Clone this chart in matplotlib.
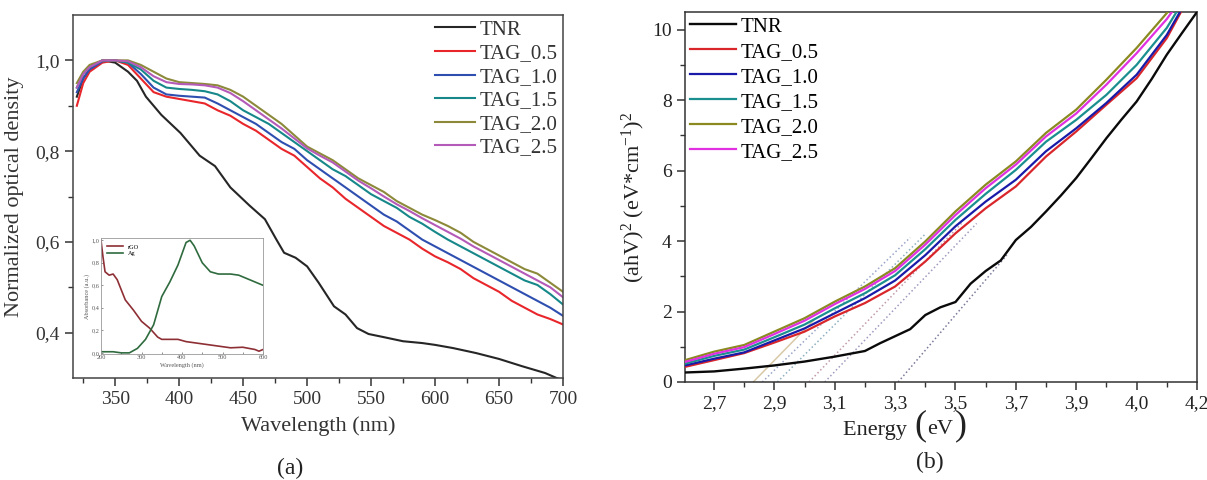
import matplotlib
matplotlib.use("Agg")
import matplotlib.pyplot as plt
from matplotlib.ticker import MultipleLocator, FixedLocator
from matplotlib.offsetbox import TextArea, HPacker, AnnotationBbox

plt.rcParams['font.family'] = ['Liberation Serif', 'DejaVu Serif']
plt.rcParams['mathtext.fontset'] = 'custom'
plt.rcParams['mathtext.rm'] = 'Liberation Serif'
plt.rcParams['mathtext.it'] = 'Liberation Serif:italic'

# ---------------- Panel (a): normalized optical density ----------------
series_names = ["TNR", "TAG_0.5", "TAG_1.0", "TAG_1.5", "TAG_2.0", "TAG_2.5"]
colors_a = ["#262626", "#e8262b", "#2f4fb0", "#17888a", "#8c8a3a", "#b45ab8"]
colors_b = ["#0a0a0a", "#d9262b", "#1a1aa8", "#1b8f8f", "#8a8a20", "#e030e0"]

wl_tnr = [320, 325, 330, 340, 350, 360, 367, 374, 386, 401, 416, 428, 440, 455, 467,
          476, 482, 491, 500, 509, 521, 530, 539, 548, 560, 575, 590, 600, 614, 632,
          650, 668, 686, 695, 700]
od_tnr = [0.92, 0.96, 0.98, 1.0, 0.995, 0.975, 0.955, 0.92, 0.88, 0.84, 0.79, 0.767,
          0.72, 0.68, 0.65, 0.605, 0.576, 0.565, 0.546, 0.51, 0.458, 0.44, 0.41, 0.397,
          0.39, 0.381, 0.377, 0.373, 0.366, 0.355, 0.342, 0.326, 0.311, 0.30, 0.295]

wl_tag = [320, 325, 330, 340, 350, 360, 370, 380, 390, 400, 410, 420, 430, 440, 450,
          460, 470, 480, 490, 500, 510, 520, 530, 540, 550, 560, 570, 580, 590, 600,
          610, 620, 630, 640, 650, 660, 670, 680, 690, 700]
od_tag05 = [0.90, 0.95, 0.975, 0.995, 1.0, 0.99, 0.96, 0.93, 0.92, 0.915, 0.91, 0.905,
            0.89, 0.878, 0.86, 0.845, 0.825, 0.805, 0.79, 0.765, 0.74, 0.72, 0.695,
            0.675, 0.655, 0.635, 0.62, 0.605, 0.585, 0.568, 0.555, 0.54, 0.52, 0.505,
            0.49, 0.47, 0.455, 0.44, 0.43, 0.418]
od_tag10 = [0.93, 0.96, 0.98, 0.998, 1.0, 0.995, 0.97, 0.94, 0.925, 0.922, 0.92, 0.918,
            0.905, 0.89, 0.875, 0.86, 0.84, 0.82, 0.805, 0.78, 0.76, 0.74, 0.72, 0.70,
            0.68, 0.66, 0.645, 0.625, 0.605, 0.59, 0.575, 0.56, 0.545, 0.53, 0.515,
            0.50, 0.485, 0.47, 0.455, 0.437]
od_tag15 = [0.94, 0.97, 0.985, 1.0, 1.0, 0.995, 0.98, 0.955, 0.94, 0.937, 0.935, 0.932,
            0.925, 0.91, 0.89, 0.875, 0.86, 0.84, 0.82, 0.80, 0.78, 0.76, 0.745, 0.725,
            0.705, 0.69, 0.675, 0.655, 0.64, 0.622, 0.605, 0.59, 0.575, 0.56, 0.545,
            0.53, 0.515, 0.505, 0.485, 0.462]
od_tag20 = [0.95, 0.975, 0.99, 1.0, 1.0, 1.0, 0.99, 0.975, 0.96, 0.952, 0.95, 0.948,
            0.945, 0.935, 0.92, 0.90, 0.88, 0.86, 0.835, 0.81, 0.795, 0.78, 0.76, 0.74,
            0.725, 0.71, 0.69, 0.675, 0.66, 0.648, 0.635, 0.62, 0.60, 0.585, 0.57,
            0.555, 0.54, 0.53, 0.51, 0.49]
od_tag25 = [0.94, 0.97, 0.985, 1.0, 1.0, 0.998, 0.985, 0.965, 0.952, 0.948, 0.947, 0.945,
            0.94, 0.928, 0.91, 0.89, 0.87, 0.85, 0.828, 0.806, 0.79, 0.775, 0.755,
            0.735, 0.718, 0.70, 0.683, 0.668, 0.652, 0.637, 0.622, 0.607, 0.59, 0.575,
            0.56, 0.545, 0.53, 0.515, 0.50, 0.478]
od_tags = [od_tag05, od_tag10, od_tag15, od_tag20, od_tag25]

# inset
inset_wl_rgo = [200, 205, 210, 220, 230, 240, 250, 260, 280, 300, 320, 340, 350, 370,
                390, 410, 450, 500, 520, 550, 580, 590, 600]
inset_rgo = [1.0, 0.85, 0.72, 0.69, 0.70, 0.65, 0.56, 0.47, 0.38, 0.28, 0.22, 0.14,
             0.12, 0.12, 0.12, 0.10, 0.08, 0.055, 0.045, 0.05, 0.03, 0.015, 0.03]
inset_wl_ag = [200, 230, 250, 270, 290, 310, 330, 350, 370, 390, 410, 420, 430, 450,
               470, 490, 520, 540, 560, 580, 600]
inset_ag = [0.01, 0.01, 0.0, 0.0, 0.04, 0.12, 0.25, 0.50, 0.63, 0.78, 0.98, 1.0, 0.95,
            0.80, 0.72, 0.70, 0.70, 0.69, 0.66, 0.63, 0.60]

# ---------------- Panel (b): Tauc plot ----------------
e_tnr = [2.604, 2.7, 2.8, 2.9, 3.0, 3.1, 3.2, 3.25, 3.3, 3.35, 3.4, 3.45, 3.5, 3.55,
         3.6, 3.65, 3.7, 3.75, 3.8, 3.85, 3.9, 3.95, 4.0, 4.05, 4.1, 4.15, 4.2, 4.25, 4.3]
t_tnr = [0.27, 0.30, 0.38, 0.47, 0.58, 0.72, 0.88, 1.1, 1.3, 1.5, 1.9, 2.12, 2.27,
         2.79, 3.15, 3.45, 4.03, 4.4, 4.84, 5.3, 5.79, 6.35, 6.92, 7.45, 7.96, 8.6,
         9.29, 9.9, 10.5]
e_tag = [2.604, 2.7, 2.8, 2.9, 3.0, 3.1, 3.2, 3.3, 3.4, 3.5, 3.6, 3.7, 3.8, 3.9, 4.0,
         4.1, 4.2, 4.25]
t_tag05 = [0.43, 0.62, 0.82, 1.12, 1.43, 1.86, 2.24, 2.71, 3.42, 4.22, 4.93, 5.55, 6.40,
           7.11, 7.87, 8.62, 9.76, 10.55]
t_tag10 = [0.47, 0.66, 0.84, 1.18, 1.52, 1.95, 2.38, 2.88, 3.60, 4.42, 5.12, 5.74, 6.55,
           7.20, 7.92, 8.72, 9.85, 10.6]
t_tag15 = [0.52, 0.74, 0.92, 1.27, 1.63, 2.09, 2.52, 3.03, 3.77, 4.60, 5.34, 6.02, 6.82,
           7.44, 8.15, 9.00, 10.05, 10.75]
t_tag20 = [0.62, 0.86, 1.05, 1.43, 1.81, 2.28, 2.71, 3.23, 3.99, 4.84, 5.60, 6.26, 7.07,
           7.73, 8.58, 9.48, 10.47, 11.0]
t_tag25 = [0.57, 0.80, 0.99, 1.36, 1.74, 2.21, 2.64, 3.15, 3.90, 4.74, 5.50, 6.17, 6.97,
           7.62, 8.44, 9.33, 10.30, 10.9]
t_tags = [t_tag05, t_tag10, t_tag15, t_tag20, t_tag25]

# tangent (band-gap extrapolation) lines: start energy at 0, end energy, end value
tan_e0 = [2.83, 2.86, 2.91, 3.015, 3.067, 3.31]
tan_e1 = [3.03, 3.35, 3.40, 3.52, 3.57, 3.67]
tan_v1 = [1.75, 4.1, 4.2, 4.5, 4.5, 3.6]
tan_colors = ["#d8c9a6", "#9aa6c8", "#8fb0c0", "#c09aa8", "#a09ac0", "#7a7a9a"]
tan_styles = ["-", ":", ":", ":", ":", ":"]

e_tick_pos = [2.7, 2.9, 3.1, 3.3, 3.5, 3.7, 3.9, 4.1, 4.3]
e_tick_lab = ["2,7", "2,9", "3,1", "3,3", "3,5", "3,7", "3,9", "4,0", "4,2"]

fig = plt.figure(figsize=(12.07, 4.8), dpi=100)

# ---- (a)
ax1 = fig.add_axes([73/1207, 1-378/480, 490/1207, 363/480])
ax1.plot(wl_tnr, od_tnr, color=colors_a[0], lw=1.5, label=series_names[0])
for name, col, od in zip(series_names[1:], colors_a[1:], od_tags):
    ax1.plot(wl_tag, od, color=col, lw=1.5, label=name)
ax1.set_xlim(317, 700)
ax1.set_ylim(0.3, 1.1)
ax1.xaxis.set_major_locator(MultipleLocator(50))
ax1.xaxis.set_minor_locator(MultipleLocator(25))
ax1.yaxis.set_major_locator(FixedLocator([0.4, 0.6, 0.8, 1.0]))
ax1.yaxis.set_minor_locator(FixedLocator([0.5, 0.7, 0.9]))
ax1.yaxis.set_major_formatter(plt.FuncFormatter(lambda v, p: f"{v:.1f}".replace(".", ",")))
ax1.tick_params(which='major', direction='out', length=6, width=1.1, labelsize=14,
                colors='#333333', labelcolor='#333333')
ax1.tick_params(which='minor', direction='out', length=3.5, width=1.0, colors='#333333')
for s in ax1.spines.values():
    s.set_color('#444444')
    s.set_linewidth(1.1)
ax1.set_xlabel("Wavelength (nm)", fontsize=16, color='#333333', labelpad=6)
ax1.set_ylabel("Normalized optical density", fontsize=16, color='#333333', labelpad=8)
leg1 = ax1.legend(loc='upper right', frameon=False, fontsize=15, handlelength=1.9,
                  handletextpad=0.25, labelspacing=0.19, borderaxespad=0.0,
                  borderpad=0.25)
for t in leg1.get_texts():
    t.set_color('#333333')

# inset
axin = fig.add_axes([101/1207, 1-354/480, 162/1207, 116/480])
axin.plot(inset_wl_rgo, inset_rgo, color="#8e2f35", lw=1.2, label="rGO")
axin.plot(inset_wl_ag, inset_ag, color="#2f6b3e", lw=1.2, label="Ag")
axin.set_xlim(200, 600)
axin.set_ylim(-0.01, 1.02)
axin.xaxis.set_major_locator(MultipleLocator(100))
axin.xaxis.set_minor_locator(MultipleLocator(50))
axin.yaxis.set_major_locator(MultipleLocator(0.2))
axin.yaxis.set_major_formatter(plt.FuncFormatter(lambda v, p: f"{v:.1f}".replace(".", ",")))
axin.tick_params(which='both', direction='in', length=1.5, width=0.5, labelsize=4.5,
                 pad=1, colors='#666666', labelcolor='#555555')
for s in axin.spines.values():
    s.set_color('#999999')
    s.set_linewidth(0.6)
axin.set_xlabel("Wavelength (nm)", fontsize=4.5, labelpad=1, color='#555555')
axin.set_ylabel("Absorbance (a.u.)", fontsize=4.5, labelpad=1, color='#555555')
lin = axin.legend(loc='upper left', frameon=False, fontsize=4.5, handlelength=2.5,
                  handletextpad=0.8, labelspacing=0.2, borderaxespad=0.6)

fig.text(290/1207, 1-468/480, "(a)", fontsize=17, ha='center', va='center', color='#222222')

# ---- (b)
ax2 = fig.add_axes([685/1207, 1-382/480, 512/1207, 370/480])
ax2.plot(e_tnr, t_tnr, color=colors_b[0], lw=1.7, label=series_names[0], zorder=5)
for name, col, tv in zip(series_names[1:], colors_b[1:], t_tags):
    ax2.plot(e_tag, tv, color=col, lw=1.6, label=name, zorder=4)
for e0, e1, v1, c, ls in zip(tan_e0, tan_e1, tan_v1, tan_colors, tan_styles):
    ax2.plot([e0, e1], [0, v1], color=c, lw=1.1, ls=ls, zorder=2)
ax2.set_xlim(2.604, 4.3)
ax2.set_ylim(0, 10.5)
ax2.xaxis.set_major_locator(FixedLocator(e_tick_pos))
ax2.xaxis.set_major_formatter(plt.FixedFormatter(e_tick_lab))
ax2.xaxis.set_minor_locator(MultipleLocator(0.1))
ax2.yaxis.set_major_locator(MultipleLocator(2))
ax2.yaxis.set_minor_locator(MultipleLocator(1))
ax2.tick_params(which='major', direction='out', length=6, width=1.1, labelsize=14,
                colors='#333333', labelcolor='#222222')
ax2.tick_params(which='minor', direction='out', length=3.5, width=1.0, colors='#333333')
for s in ax2.spines.values():
    s.set_color('#333333')
    s.set_linewidth(1.1)
ax2.set_ylabel(r"(ahV)$^{2}$ (eV*cm$^{-1}$)$^{2}$", fontsize=16, color='#222222', labelpad=4)
leg2 = ax2.legend(loc='upper left', frameon=False, fontsize=15, handlelength=2.2,
                  handletextpad=0.2, labelspacing=0.26, borderaxespad=0.05,
                  borderpad=0.2)

# x label with tall parentheses
parts = [TextArea("Energy ", textprops=dict(fontsize=16, color='#222222')),
         TextArea("(", textprops=dict(fontsize=26, color='#222222')),
         TextArea("eV", textprops=dict(fontsize=16, color='#222222')),
         TextArea(")", textprops=dict(fontsize=26, color='#222222'))]
pack = HPacker(children=parts, align="baseline", pad=0, sep=1)
ab = AnnotationBbox(pack, (905/1207, 1-426/480), xycoords='figure fraction',
                    frameon=False, box_alignment=(0.5, 0.5))
fig.add_artist(ab)

fig.text(930/1207, 1-462/480, "(b)", fontsize=17, ha='center', va='center', color='#222222')

fig.savefig("out.png", dpi=100)
